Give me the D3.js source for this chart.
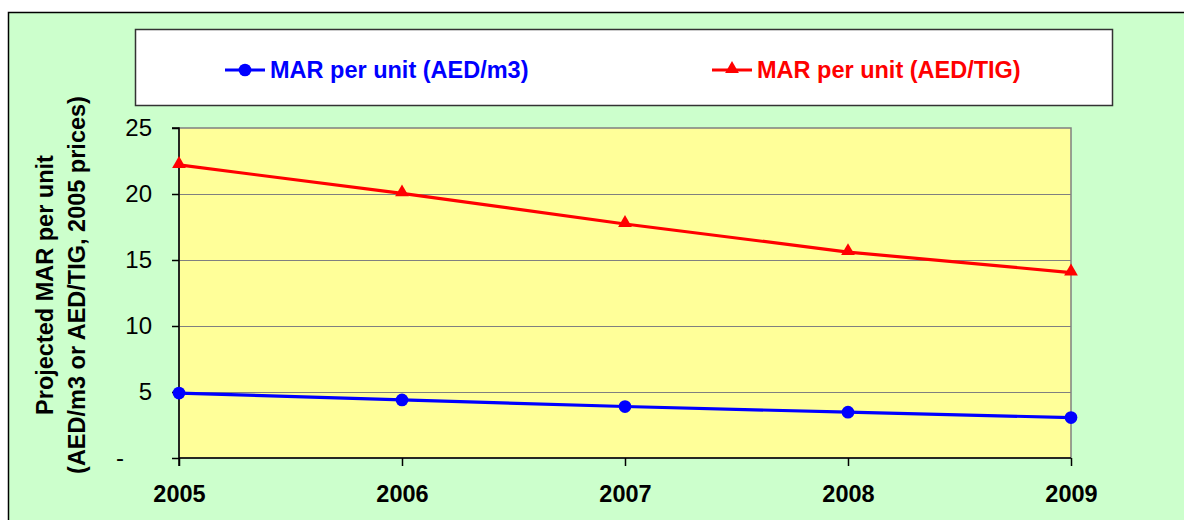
<!DOCTYPE html>
<html><head><meta charset="utf-8">
<script src="https://cdn.jsdelivr.net/npm/d3@7"></script>
<style>body{margin:0;background:#fff;} svg{display:block;font-family:"Liberation Sans",Arial,sans-serif;}</style>
</head><body>
<svg id="c" width="1184" height="520"></svg>
<script>
const years = ["2005","2006","2007","2008","2009"];
const marM3 = [4.92, 4.4, 3.9, 3.47, 3.06];
const marTIG = [22.2, 20.05, 17.73, 15.6, 14.05];
const yTicks = [0, 5, 10, 15, 20, 25];
const seriesNames = ["MAR per unit (AED/m3)", "MAR per unit (AED/TIG)"];
const seriesColors = ["#0000FF", "#FF0000"];

const svg = d3.select("#c");
// outer chart area
svg.append("rect").attr("x",8.5).attr("y",12.5).attr("width",1200).attr("height",540)
  .attr("fill","#CCFFCC").attr("stroke","#000").attr("stroke-width",1.5);

const L=179, R=1071, T=128, B=458;
const x = d3.scalePoint().domain(years).range([L,R]);
const y = d3.scaleLinear().domain([0,25]).range([B,T]);

// plot area
svg.append("rect").attr("x",L).attr("y",T).attr("width",R-L).attr("height",B-T)
  .attr("fill","#FFFF99").attr("stroke","#808080").attr("stroke-width",1.5);
// gridlines
svg.append("g").selectAll("line").data(yTicks.filter(d=>d>0&&d<25)).join("line")
  .attr("x1",L).attr("x2",R).attr("y1",d=>Math.round(y(d))+0.5).attr("y2",d=>Math.round(y(d))+0.5)
  .attr("stroke","#808080").attr("stroke-width",1.2);

// y axis
const ya = svg.append("g").attr("transform",`translate(${L},0)`)
  .call(d3.axisLeft(y).tickValues(yTicks).tickSize(7).tickPadding(20).tickFormat(d=>d===0?"-":d));
ya.select(".domain").attr("stroke","#000").attr("stroke-width",1.5).attr("d",`M-7,${T}H0V${B+8}`);
ya.selectAll(".tick line").attr("stroke","#000").attr("stroke-width",1.5);
ya.selectAll(".tick text").attr("font-size",24).attr("fill","#000")
  .attr("dx",d=>d===0?-28:0);

// x axis
const xa = svg.append("g").attr("transform",`translate(0,${B})`)
  .call(d3.axisBottom(x).tickSize(8).tickPadding(19));
xa.select(".domain").attr("stroke","#000").attr("stroke-width",1.5).attr("d",`M${L},0H${R}`);
xa.selectAll(".tick line").attr("stroke","#000").attr("stroke-width",1.5);
xa.selectAll(".tick text").attr("font-size",23.5).attr("font-weight","bold").attr("fill","#000");

// axis title
const at = svg.append("text").attr("transform","translate(61,285) rotate(-90)")
  .attr("text-anchor","middle").attr("font-size",23.5).attr("font-weight","bold").attr("fill","#000");
at.append("tspan").attr("x",0).attr("dy",-8).text("Projected MAR per unit");
at.append("tspan").attr("x",0).attr("dy",32).text("(AED/m3 or AED/TIG, 2005 prices)");

// lines
const data = [marM3, marTIG];
const line = d3.line().x((d,i)=>x(years[i])).y(d=>y(d));
data.forEach((s,k)=>{
  svg.append("path").attr("d",line(s)).attr("fill","none")
    .attr("stroke",seriesColors[k]).attr("stroke-width",3.2);
});
// markers
const circ = d3.symbol().type(d3.symbolCircle).size(127);
const tri = d3.symbol().type(d3.symbolTriangle).size(82);
svg.append("g").selectAll("path").data(marM3).join("path")
  .attr("d",circ).attr("transform",(d,i)=>`translate(${x(years[i])},${y(d)})`).attr("fill",seriesColors[0]);
svg.append("g").selectAll("path").data(marTIG).join("path")
  .attr("d",tri).attr("transform",(d,i)=>`translate(${x(years[i])},${y(d)-1})`).attr("fill",seriesColors[1]);

// legend
svg.append("rect").attr("x",135.5).attr("y",29.5).attr("width",977).attr("height",76)
  .attr("fill","#fff").attr("stroke","#333").attr("stroke-width",1.5);
const leg = [{x:225, s:circ},{x:712, s:tri}];
leg.forEach((l,k)=>{
  const ly = 70;
  svg.append("line").attr("x1",l.x).attr("x2",l.x+40).attr("y1",ly).attr("y2",ly)
    .attr("stroke",seriesColors[k]).attr("stroke-width",3.2);
  svg.append("path").attr("d",l.s).attr("transform",`translate(${l.x+20},${ly-(k?1:0)})`).attr("fill",seriesColors[k]);
  svg.append("text").attr("x",l.x+45).attr("y",ly+8).attr("font-size",23.5).attr("font-weight","bold")
    .attr("fill",seriesColors[k]).text(seriesNames[k]);
});
</script>
</body></html>
